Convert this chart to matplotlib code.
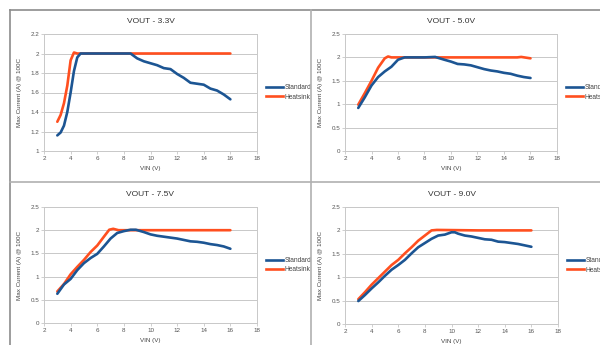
import matplotlib
matplotlib.use("Agg")
import matplotlib.pyplot as plt
from matplotlib.lines import Line2D

plt.rcParams['font.family'] = ['Liberation Sans', 'DejaVu Sans']

BLUE = "#1c5593"
ORANGE = "#ff4f1f"
GRID = "#c8c8c8"

# VOUT 3.3V
x33_std = [3.0, 3.25, 3.5, 3.75, 4.0, 4.25, 4.5, 4.75, 5.0, 6.0, 7.0, 8.0, 8.5, 9.0, 9.5, 10.0, 10.5,
           11.0, 11.5, 12.0, 12.5, 13.0, 13.5, 14.0, 14.5, 15.0, 15.5, 16.0]
y33_std = [1.16, 1.19, 1.26, 1.40, 1.60, 1.82, 1.96, 2.00, 2.00, 2.00, 2.00, 2.00, 2.00, 1.95, 1.92, 1.90, 1.88,
           1.85, 1.84, 1.79, 1.75, 1.70, 1.69, 1.68, 1.64, 1.62, 1.58, 1.53]
x33_hs = [3.0, 3.25, 3.5, 3.75, 4.0, 4.25, 4.5, 5.0, 8.0, 12.0, 16.0]
y33_hs = [1.30, 1.37, 1.49, 1.67, 1.93, 2.01, 2.00, 2.00, 2.00, 2.00, 2.00]

# VOUT 5.0V
x50_std = [3.0, 3.5, 4.0, 4.5, 5.0, 5.5, 6.0, 6.5, 7.0, 8.0, 8.8, 9.5, 10.0, 10.5, 11.0, 11.5,
           12.0, 12.5, 13.0, 13.5, 14.0, 14.5, 15.0, 15.5, 16.0]
y50_std = [0.92, 1.15, 1.40, 1.58, 1.70, 1.80, 1.95, 2.00, 2.00, 2.00, 2.01, 1.95, 1.91, 1.86, 1.85, 1.83,
           1.79, 1.75, 1.72, 1.70, 1.67, 1.65, 1.61, 1.58, 1.56]
x50_hs = [3.0, 3.5, 4.0, 4.5, 5.0, 5.25, 5.5, 6.0, 10.0, 15.0, 15.3, 16.0]
y50_hs = [0.99, 1.24, 1.50, 1.78, 1.98, 2.02, 2.00, 2.00, 2.00, 2.00, 2.01, 1.98]

# VOUT 7.5V
x75_std = [3.0, 3.5, 4.0, 4.5, 5.0, 5.5, 6.0, 6.5, 7.0, 7.5, 8.0, 8.5, 8.9, 9.5, 10.0, 10.5, 11.0,
           11.5, 12.0, 12.5, 13.0, 13.5, 14.0, 14.5, 15.0, 15.5, 16.0]
y75_std = [0.63, 0.83, 0.95, 1.14, 1.29, 1.40, 1.49, 1.65, 1.82, 1.94, 1.98, 2.01, 2.01, 1.96, 1.91, 1.88, 1.86,
           1.84, 1.82, 1.79, 1.76, 1.75, 1.73, 1.70, 1.68, 1.65, 1.60]
x75_hs = [3.0, 3.5, 4.0, 4.5, 5.0, 5.5, 6.0, 6.5, 6.9, 7.2, 7.6, 8.0, 12.0, 16.0]
y75_hs = [0.68, 0.84, 1.05, 1.21, 1.36, 1.53, 1.67, 1.86, 2.01, 2.03, 2.00, 2.00, 2.00, 2.00]

# VOUT 9.0V
x90_std = [3.0, 3.5, 4.0, 4.5, 5.0, 5.5, 6.0, 6.5, 7.0, 7.5, 8.0, 8.5, 9.0, 9.5, 10.0, 10.25, 10.5,
           11.0, 11.5, 12.0, 12.5, 13.0, 13.5, 14.0, 14.5, 15.0, 15.5, 16.0]
y90_std = [0.49, 0.62, 0.76, 0.89, 1.03, 1.16, 1.26, 1.37, 1.51, 1.64, 1.73, 1.82, 1.89, 1.91, 1.96, 1.96, 1.93,
           1.89, 1.87, 1.84, 1.81, 1.80, 1.76, 1.75, 1.73, 1.71, 1.68, 1.65]
x90_hs = [3.0, 3.5, 4.0, 4.5, 5.0, 5.5, 6.0, 6.5, 7.0, 7.5, 8.0, 8.5, 8.9, 12.0, 16.0]
y90_hs = [0.53, 0.68, 0.84, 0.98, 1.12, 1.26, 1.37, 1.51, 1.64, 1.78, 1.89, 2.00, 2.01, 2.00, 2.00]

W, H = 600, 345
fig = plt.figure(figsize=(W / 100, H / 100), dpi=100)


def px_axes(left, top, right, bottom):
    return fig.add_axes([left / W, 1 - bottom / H, (right - left) / W, (bottom - top) / H])


def style(ax, title, ylim, yticks):
    ax.set_xlim(2, 18)
    ax.set_xticks(range(2, 19, 2))
    ax.set_ylim(*ylim)
    ax.set_yticks(yticks)
    ax.set_yticklabels([f"{t:g}" for t in yticks])
    ax.grid(axis='y', color=GRID, lw=0.7)
    ax.set_axisbelow(True)
    for s in ax.spines.values():
        s.set_color(GRID)
        s.set_linewidth(0.7)
    ax.tick_params(labelsize=4.5, colors="#555555", length=2, width=0.6, pad=1.5)
    ax.tick_params(color=GRID)
    ax.set_title(title, fontsize=6, color="#333333", pad=8)
    ax.set_xlabel("VIN (V)", fontsize=4.5, color="#444444", labelpad=4)
    ax.set_ylabel("Max Current (A) @ 100C", fontsize=4.5, color="#444444", labelpad=6)
    handles = [Line2D([], [], color=BLUE, lw=1.9), Line2D([], [], color=ORANGE, lw=1.9)]
    ax.legend(handles, ["Standard", "Heatsink"], loc='center left', bbox_to_anchor=(1.03, 0.5),
              frameon=False, fontsize=4.8, handlelength=2.6, handletextpad=0.2,
              labelspacing=0.35, borderaxespad=0, labelcolor="#444444")


panels = [
    ((44, 34, 257, 151), "VOUT - 3.3V", (1, 2.2), [1, 1.2, 1.4, 1.6, 1.8, 2, 2.2],
     x33_std, y33_std, x33_hs, y33_hs),
    ((345, 34, 557, 151), "VOUT - 5.0V", (0, 2.5), [0, 0.5, 1, 1.5, 2, 2.5],
     x50_std, y50_std, x50_hs, y50_hs),
    ((44, 207, 257, 323), "VOUT - 7.5V", (0, 2.5), [0, 0.5, 1, 1.5, 2, 2.5],
     x75_std, y75_std, x75_hs, y75_hs),
    ((345, 207, 558, 324), "VOUT - 9.0V", (0, 2.5), [0, 0.5, 1, 1.5, 2, 2.5],
     x90_std, y90_std, x90_hs, y90_hs),
]

for box, title, ylim, yticks, xs, ys, xh, yh in panels:
    ax = px_axes(*box)
    ax.plot(xh, yh, color=ORANGE, lw=1.9, solid_capstyle='round')
    ax.plot(xs, ys, color=BLUE, lw=1.9, solid_capstyle='round')
    style(ax, title, ylim, yticks)

# cell borders of the sheet
border = dict(color="#8c8c8c", lw=1.2, transform=fig.transFigure)
fig.add_artist(Line2D([10 / W, 10 / W], [0, 1 - 10 / H], **border))
fig.add_artist(Line2D([10 / W, 1], [1 - 10 / H, 1 - 10 / H], **border))
fig.add_artist(Line2D([311 / W, 311 / W], [0, 1 - 10 / H], color="#b0b0b0", lw=1.2, transform=fig.transFigure))
fig.add_artist(Line2D([10 / W, 1], [1 - 182 / H, 1 - 182 / H], color="#b0b0b0", lw=1.2, transform=fig.transFigure))

fig.savefig("out.png", dpi=100, facecolor="white")
